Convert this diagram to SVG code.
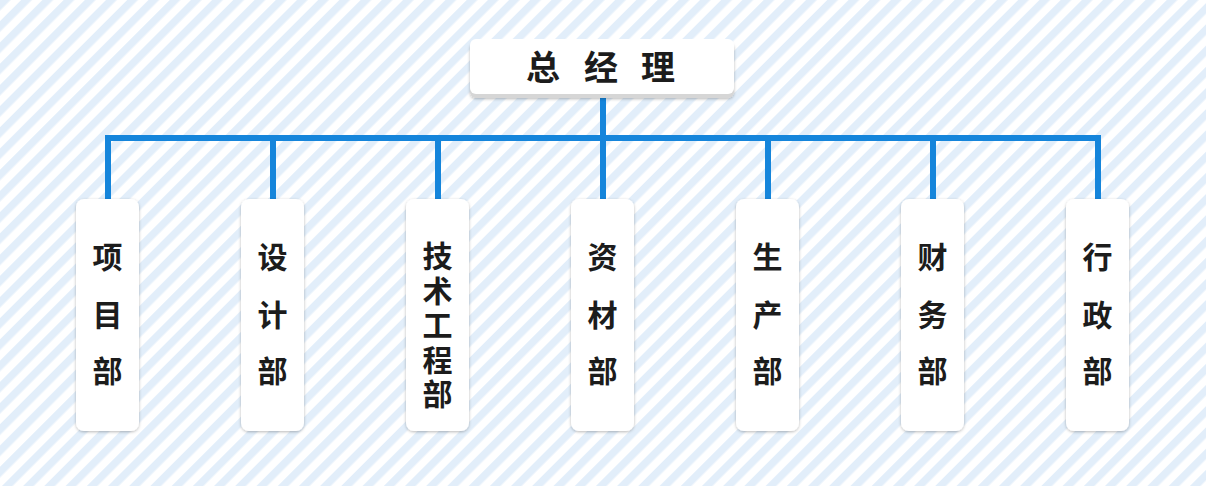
<svg xmlns="http://www.w3.org/2000/svg" width="1206" height="486" viewBox="0 0 1206 486">
<defs>
<pattern id="stripes" patternUnits="userSpaceOnUse" width="15" height="15" patternTransform="rotate(45)">
<rect width="15" height="15" fill="#ffffff"/>
<rect width="7.5" height="15" fill="#e2eefa"/>
</pattern>
<filter id="sh" x="-30%" y="-10%" width="160%" height="120%">
<feDropShadow dx="0" dy="1" stdDeviation="1.6" flood-color="#000" flood-opacity="0.28"/>
</filter>
</defs>
<style>
.box{fill:#ffffff;filter:url(#sh)}
.t{font-family:"Noto Sans CJK SC","Noto Sans CJK TC",sans-serif;font-weight:700;font-size:30px;fill:#1c1c1c;text-anchor:middle}
.tt{font-size:34px}
.ln{fill:none;stroke:#1585db;stroke-width:6;stroke-linejoin:miter;stroke-linecap:butt}
</style>
<rect width="1206" height="486" fill="url(#stripes)"/>
<g id="connectors">
<path class="ln" d="M603 96V138"/>
<path class="ln" d="M108 200V138H1098V200"/>
<path class="ln" d="M273 138V200M438 138V200M603 138V200M768 138V200M933 138V200"/>
</g>
<g id="n0">
<rect x="470" y="42" width="264" height="56" rx="6" fill="#d6d6d6" filter="url(#sh)"/>
<rect x="470" y="39" width="264" height="55" rx="6" fill="#ffffff"/>
<text class="t tt" y="80"><tspan x="543">总</tspan><tspan x="601">经</tspan><tspan x="658">理</tspan></text>
</g>
<g id="n1">
<rect class="box" x="76" y="199" width="63" height="232" rx="8"/>
<text class="t"><tspan x="107.5" y="268">项</tspan><tspan x="107.5" y="326">目</tspan><tspan x="107.5" y="382">部</tspan></text>
</g>
<g id="n2">
<rect class="box" x="241" y="199" width="63" height="232" rx="8"/>
<text class="t"><tspan x="272.5" y="268">设</tspan><tspan x="272.5" y="326">计</tspan><tspan x="272.5" y="382">部</tspan></text>
</g>
<g id="n3">
<rect class="box" x="406" y="199" width="63" height="232" rx="8"/>
<text class="t"><tspan x="437.5" y="267">技</tspan><tspan x="437.5" y="301.5">术</tspan><tspan x="437.5" y="336">工</tspan><tspan x="437.5" y="370.5">程</tspan><tspan x="437.5" y="405">部</tspan></text>
</g>
<g id="n4">
<rect class="box" x="571" y="199" width="63" height="232" rx="8"/>
<text class="t"><tspan x="602.5" y="268">资</tspan><tspan x="602.5" y="326">材</tspan><tspan x="602.5" y="382">部</tspan></text>
</g>
<g id="n5">
<rect class="box" x="736" y="199" width="63" height="232" rx="8"/>
<text class="t"><tspan x="767.5" y="268">生</tspan><tspan x="767.5" y="326">产</tspan><tspan x="767.5" y="382">部</tspan></text>
</g>
<g id="n6">
<rect class="box" x="901" y="199" width="63" height="232" rx="8"/>
<text class="t"><tspan x="932.5" y="268">财</tspan><tspan x="932.5" y="326">务</tspan><tspan x="932.5" y="382">部</tspan></text>
</g>
<g id="n7">
<rect class="box" x="1066" y="199" width="63" height="232" rx="8"/>
<text class="t"><tspan x="1097.5" y="268">行</tspan><tspan x="1097.5" y="326">政</tspan><tspan x="1097.5" y="382">部</tspan></text>
</g>
</svg>
